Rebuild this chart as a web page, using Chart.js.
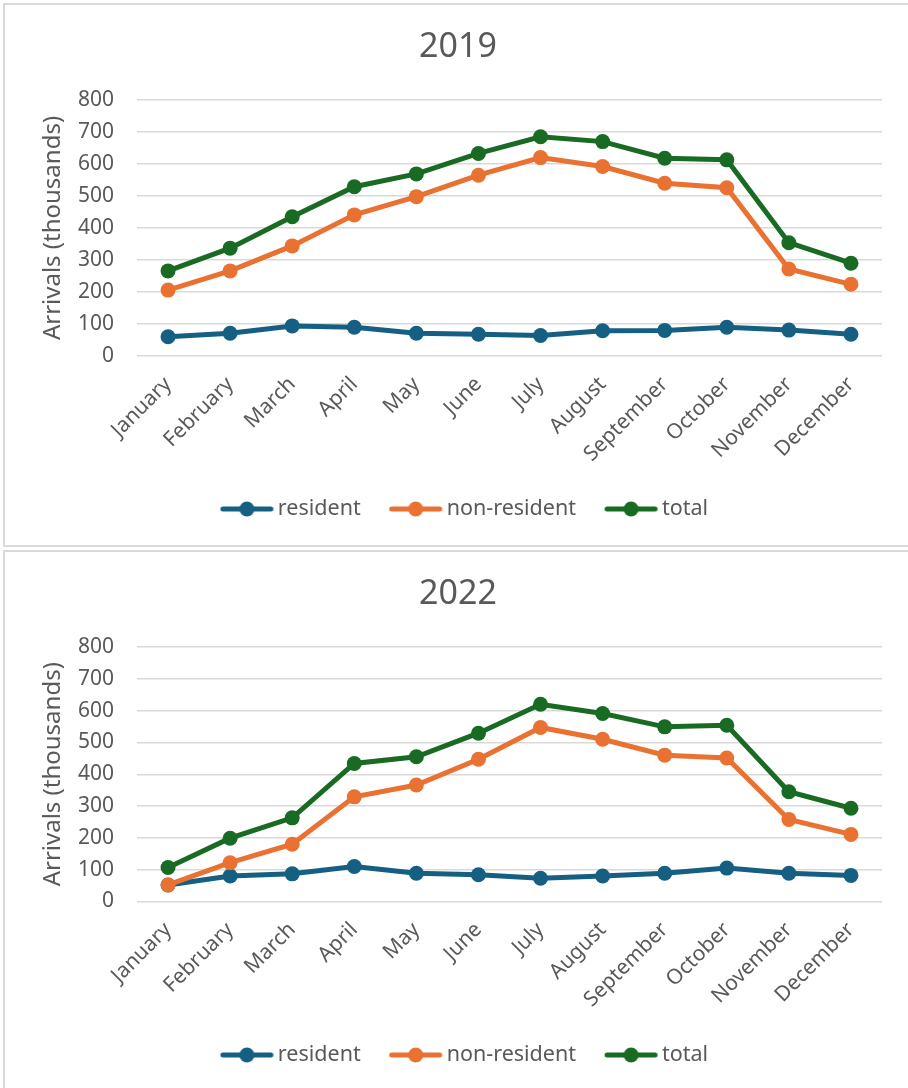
<!DOCTYPE html>
<html>
<head>
<meta charset="utf-8">
<script src="https://cdn.jsdelivr.net/npm/chart.js@4.4.1/dist/chart.umd.min.js"></script>
<style>
  html, body { margin: 0; padding: 0; background: #fff; overflow: hidden; }
  .caja { position: absolute; left: 3px; width: 1000px; border: 2px solid #d9d9d9; box-sizing: border-box; }
  #caja1 { top: 3px; height: 544px; }
  #caja2 { top: 550px; height: 600px; }
  canvas { display: block; }
</style>
</head>
<body>
<div class="caja" id="caja1"><canvas id="chart2019" width="906" height="540"></canvas></div>
<div class="caja" id="caja2"><canvas id="chart2022" width="906" height="536"></canvas></div>
<script>
/* datos */
const meses = ['January', 'February', 'March', 'April', 'May', 'June', 'July', 'August', 'September', 'October', 'November', 'December'];
const series = ['resident', 'non-resident', 'total'];

const resident2019 = [60, 71, 94, 90, 71, 68, 64, 79, 80, 90, 81, 68];
const nonResident2019 = [206, 266, 344, 441, 498, 565, 620, 592, 540, 526, 272, 224];
const total2019 = [266, 337, 435, 529, 569, 633, 685, 670, 618, 613, 354, 290];

const resident2022 = [52, 80, 87, 110, 89, 84, 73, 80, 89, 105, 89, 82];
const nonResident2022 = [52, 122, 180, 329, 366, 447, 547, 510, 460, 451, 258, 211];
const total2022 = [107, 199, 263, 434, 455, 529, 620, 591, 549, 554, 345, 293];

const yTicks = [0, 100, 200, 300, 400, 500, 600, 700, 800];

/* estilos */
const colores = ['#156082', '#E97132', '#196B24'];
const gris = '#595959';
const fuente = "'Noto Sans', 'Liberation Sans', sans-serif";

/* marca de leyenda: linea con circulo (corrida a la derecha dentro de la imagen) */
function marcaLeyenda(color) {
    const c = document.createElement('canvas');
    c.width = 100;
    c.height = 16;
    const g = c.getContext('2d');
    const cx = 59.4;
    g.strokeStyle = color;
    g.lineWidth = 5;
    g.lineCap = 'round';
    g.beginPath();
    g.moveTo(cx - 24, 8);
    g.lineTo(cx + 24, 8);
    g.stroke();
    g.fillStyle = color;
    g.beginPath();
    g.arc(cx, 8, 7.5, 0, Math.PI * 2);
    g.fill();
    return c;
}

function datasets(valores) {
    return valores.map((v, i) => ({
        label: series[i],
        data: v,
        borderColor: colores[i],
        backgroundColor: colores[i],
        pointBackgroundColor: colores[i],
        pointBorderColor: colores[i],
        borderWidth: 5,
        pointRadius: 7.5,
        pointBorderWidth: 0,
        tension: 0,
        order: 3 - i
    }));
}

function crearGrafico(id, titulo, valores, p) {
    const ctx = document.getElementById(id).getContext('2d');
    return new Chart(ctx, {
        type: 'line',
        data: { labels: meses, datasets: datasets(valores) },
        options: {
            responsive: false,
            animation: false,
            layout: { padding: { left: 0, right: 0, top: 0, bottom: p.bottom } },
            plugins: {
                title: {
                    display: true,
                    text: titulo,
                    color: gris,
                    font: { family: fuente, size: 34, weight: 'normal' },
                    padding: { top: 21.6, bottom: 32.6 }
                },
                legend: {
                    position: 'bottom',
                    labels: {
                        usePointStyle: true,
                        pointStyleWidth: 59.25,
                        padding: 16,
                        color: gris,
                        font: { family: fuente, size: 21.5 },
                        sort: (a, b) => a.datasetIndex - b.datasetIndex,
                        generateLabels: chart => {
                            const items = Chart.defaults.plugins.legend.labels.generateLabels(chart);
                            items.forEach(it => { it.pointStyle = marcaLeyenda(colores[it.datasetIndex]); });
                            return items;
                        }
                    }
                },
                tooltip: { enabled: false }
            },
            scales: {
                x: {
                    offset: true,
                    grid: { display: false },
                    border: { display: false },
                    ticks: {
                        color: gris,
                        font: { family: fuente, size: 21 },
                        minRotation: 45,
                        maxRotation: 45,
                        autoSkip: false,
                        padding: 8
                    },
                    afterFit: s => { s.height = p.xHeight; }
                },
                y: {
                    min: yTicks[0],
                    max: yTicks[yTicks.length - 1],
                    afterBuildTicks: s => { s.ticks = yTicks.map(v => ({ value: v })); },
                    ticks: { color: gris, font: { family: fuente, size: 21 }, padding: 23 },
                    grid: { color: '#d9d9d9', lineWidth: 1.5, drawTicks: false },
                    border: { display: false },
                    title: {
                        display: true,
                        text: 'Arrivals (thousands)',
                        color: gris,
                        font: { family: fuente, size: 24 },
                        padding: { top: 33.6, bottom: 0 }
                    },
                    afterFit: s => { s.width = 132; }
                },
                /* eje vacio a la derecha, solo deja el margen */
                margen: {
                    type: 'linear',
                    position: 'right',
                    display: true,
                    grid: { display: false },
                    border: { display: false },
                    ticks: { display: false },
                    afterFit: s => { s.width = 29; }
                }
            }
        }
    });
}

crearGrafico('chart2019', '2019', [resident2019, nonResident2019, total2019], { bottom: 15.25, xHeight: 126.25 });
crearGrafico('chart2022', '2022', [resident2022, nonResident2022, total2022], { bottom: 12.25, xHeight: 126.75 });
</script>
</body>
</html>
